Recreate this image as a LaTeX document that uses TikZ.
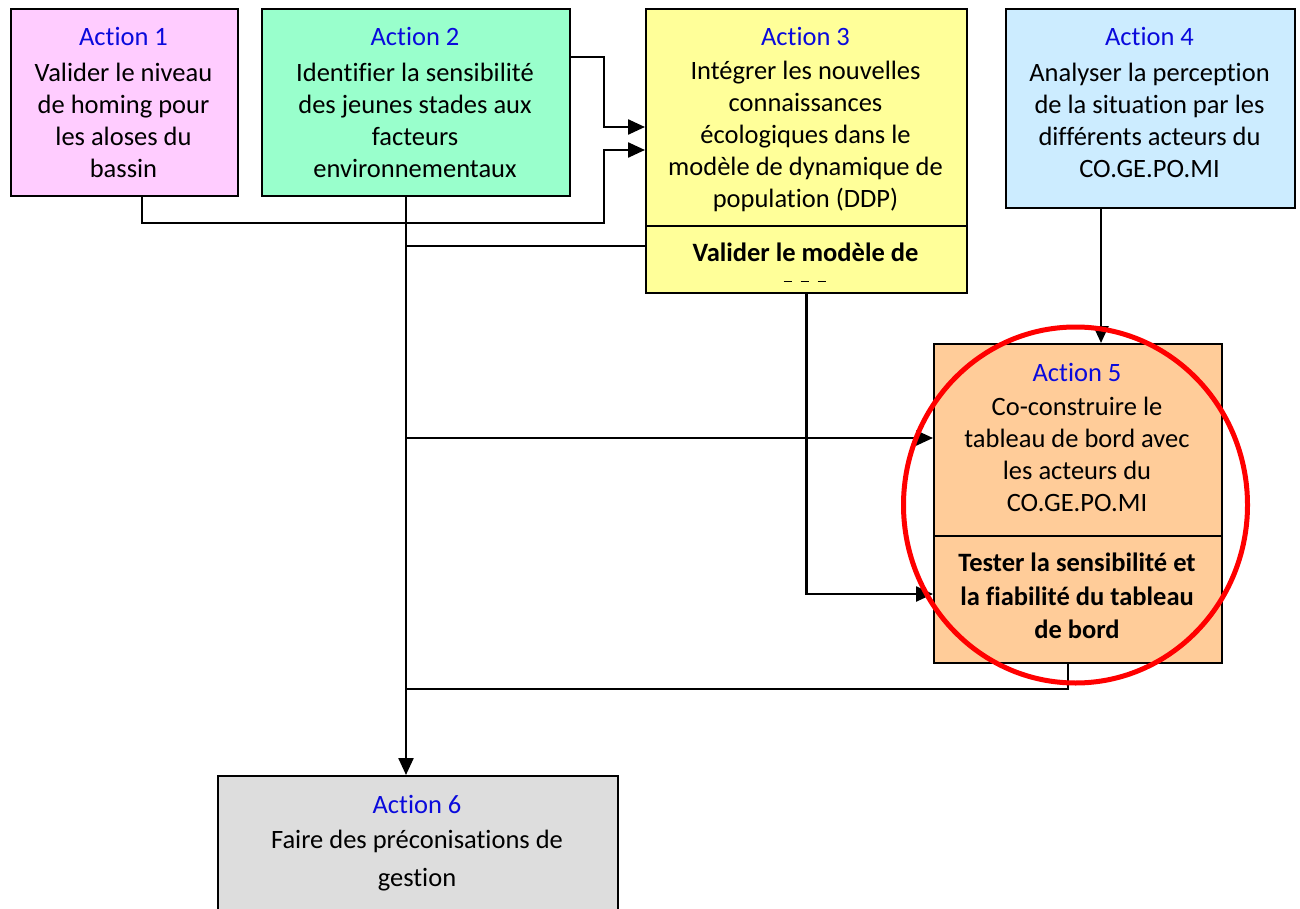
\documentclass[tikz,border=0pt]{standalone}
\usepackage{fontspec}
\setmainfont{Carlito}[Ligatures=NoCommon]
\usetikzlibrary{arrows.meta}
\definecolor{pinkbox}{HTML}{FFCCFF}
\definecolor{greenbox}{HTML}{99FFCC}
\definecolor{yellowbox}{HTML}{FFFF99}
\definecolor{bluebox}{HTML}{CCECFF}
\definecolor{orangebox}{HTML}{FFCC99}
\definecolor{greybox}{HTML}{DDDDDD}
\definecolor{actblue}{RGB}{10,10,220}
\begin{document}
\begin{tikzpicture}[x=1pt,y=-1pt,
  box/.style={draw=black, line width=2pt, anchor=north west, inner sep=0pt},
  conn/.style={draw=black, line width=2.4pt},
  arr/.style={conn, -{Triangle[length=17pt,width=15pt]}},
  txt/.style={align=center, inner sep=0pt, font=\fontsize{26.5}{32}\selectfont},
  head/.style={txt, text=actblue},
  boldtxt/.style={txt, font=\fontsize{26.5}{33.5}\selectfont\bfseries}]
\useasboundingbox (0,0) rectangle (1300,909);

% boxes
\node[box, fill=pinkbox,   minimum width=227pt, minimum height=187pt] (a1) at (10,8) {};
\node[box, fill=greenbox,  minimum width=308pt, minimum height=187pt] (a2) at (261,8) {};
\node[box, fill=yellowbox, minimum width=321pt, minimum height=284pt] (a3) at (645,8) {};
\node[box, fill=bluebox,   minimum width=289pt, minimum height=199pt] (a4) at (1005,8) {};
\node[box, fill=orangebox, minimum width=288pt, minimum height=319pt] (a5) at (933,343) {};
\node[box, fill=greybox,   minimum width=400pt, minimum height=160pt] (a6) at (217,775) {};

% inner separators
\draw[line width=2pt] (a3.west |- 0,226) -- (a3.east |- 0,226);
\draw[line width=2pt] (a5.west |- 0,536) -- (a5.east |- 0,536);

% texts
\node[head] (h1) at (123.5,36) {Action 1};
\node[txt]  (t1) at (123.5,120) {Valider le niveau\\de homing pour\\les aloses du\\bassin};

\node[head] (h2) at (415,36) {Action 2};
\node[txt]  (t2) at (415,120) {Identifier la sensibilité\\des jeunes stades aux\\facteurs\\environnementaux};

\node[head] (h3) at (805.5,36) {Action 3};
\node[txt]  (t3) at (805.5,136) {Intégrer les nouvelles\\connaissances\\écologiques dans le\\modèle de dynamique de\\population (DDP)};
\node[boldtxt] (b3) at (805.5,252) {Valider le modèle de};
\draw[line width=1pt, dash pattern=on 8pt off 9pt] (783.5,281) -- (825.5,281);

\node[head] (h4) at (1149.5,36) {Action 4};
\node[txt]  (t4) at (1149.5,120) {Analyser la perception\\de la situation par les\\différents acteurs du\\CO.GE.PO.MI};

\node[head] (h5) at (1077,372) {Action 5};
\node[txt]  (t5) at (1077,454) {Co-construire le\\tableau de bord avec\\les acteurs du\\CO.GE.PO.MI};
\node[boldtxt] (b5) at (1077,596) {Tester la sensibilité et\\la fiabilité du tableau\\de bord};

\node[head] (h6) at (417,804) {Action 6};
\node[txt, font=\fontsize{26.5}{38}\selectfont] (t6) at (417,861) {Faire des préconisations de\\gestion};

% connectors
\draw[arr] (a2.east |- 0,57) -| (604,127) -- (a3.west |- 0,127);
\draw[arr] (a1.south -| 142,0) |- (604,223) -- (604,150) -- (a3.west |- 0,150);
\draw[arr] (a2.south -| 406,0) -- (a6.north -| 406,0);
\draw[conn] (a3.west |- 0,246) -- (406,246);
\draw[arr] (406,438) -- (a5.west |- 0,438);
\draw[arr] (a3.south) |- (a5.west |- 0,594);
\draw[arr] (a4.south -| 1101,0) -- (a5.north -| 1101,0);
\draw[conn] (a5.south -| 1068,0) |- (406,689);

% highlight
\draw[red, line width=5pt] (1075.5,505) ellipse [x radius=172pt, y radius=178pt];
\end{tikzpicture}
\end{document}
